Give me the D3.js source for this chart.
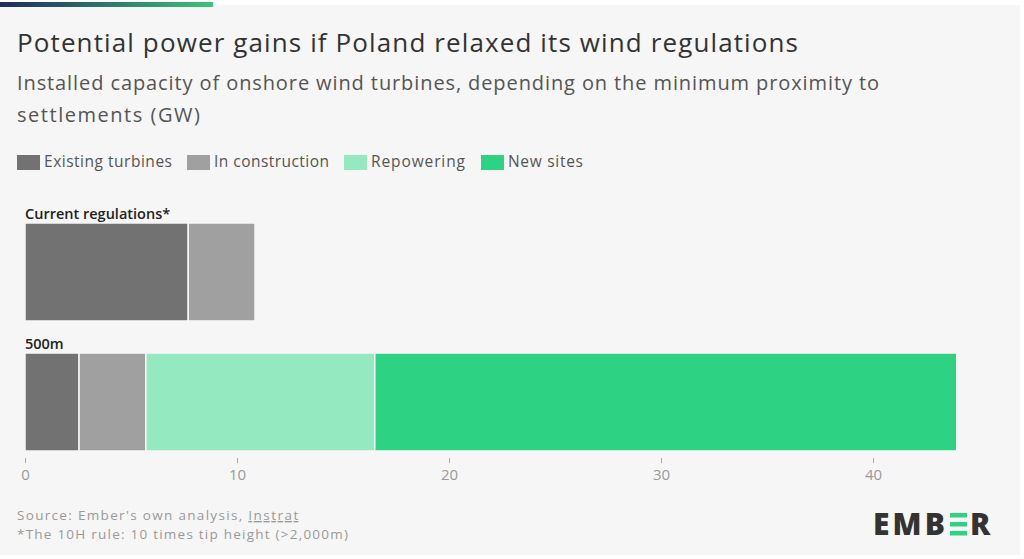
<!DOCTYPE html>
<html>
<head>
<meta charset="utf-8">
<script src="https://cdn.jsdelivr.net/npm/d3@7"></script>
<style>
  body { margin: 0; background: #fff; font-family: "Open Sans", "Noto Sans", sans-serif; }
</style>
</head>
<body>
<svg id="chart"></svg>
<script>
const categories = ['Current regulations*', '500m'];
const seriesNames = ['Existing turbines', 'In construction', 'Repowering', 'New sites'];
const colors = ['#727272', '#a0a0a0', '#94e9c0', '#2dd283'];
const existing = [7.7, 2.55];
const construction = [3.15, 3.15];
const repowering = [0, 10.8];
const newSites = [0, 27.45];
const xTicks = [0, 10, 20, 30, 40];

const width = 1024, height = 559;
const svg = d3.select('#chart').attr('width', width).attr('height', height);

svg.append('rect').attr('x', 0).attr('y', 5).attr('width', 1020).attr('height', 550).attr('fill', '#f6f6f6');
const grad = svg.append('defs').append('linearGradient').attr('id', 'topgrad');
grad.append('stop').attr('offset', '0%').attr('stop-color', '#1e2b5a');
grad.append('stop').attr('offset', '100%').attr('stop-color', '#3ec47a');
svg.append('rect').attr('x', 0).attr('y', 2).attr('width', 213).attr('height', 5).attr('fill', 'url(#topgrad)');

svg.append('text').attr('x', 17).attr('y', 52).attr('font-size', 26).attr('fill', '#333')
  .attr('textLength', 781).text('Potential power gains if Poland relaxed its wind regulations');
svg.append('text').attr('x', 17).attr('y', 90).attr('font-size', 20).attr('fill', '#555')
  .attr('textLength', 862).text('Installed capacity of onshore wind turbines, depending on the minimum proximity to');
svg.append('text').attr('x', 17).attr('y', 122).attr('font-size', 20).attr('fill', '#555')
  .attr('textLength', 183).text('settlements (GW)');

// legend
const legendX = [17, 187, 344, 481];
const legendW = [128, 115, 94, 75];
seriesNames.forEach((s, i) => {
  svg.append('rect').attr('x', legendX[i]).attr('y', 155).attr('width', 23).attr('height', 15).attr('fill', colors[i]);
  svg.append('text').attr('x', legendX[i] + 27).attr('y', 167).attr('font-size', 15.5).attr('fill', '#555')
    .attr('textLength', legendW[i]).text(s);
});

const x = d3.scaleLinear().domain([0, 40]).range([25, 873]);
const y = d3.scaleBand().domain(categories).range([205, 451]).paddingInner(0.108).paddingOuter(0);

const rows = categories.map((c, i) => ({ cat: c, vals: [existing[i], construction[i], repowering[i], newSites[i]] }));
const stacked = d3.stack().keys([0, 1, 2, 3]).value((d, k) => d.vals[k])(rows);

const g = svg.append('g');
stacked.forEach((layer, k) => {
  g.selectAll(null).data(layer.filter(d => d[1] > d[0])).enter().append('rect')
    .attr('x', d => x(d[0]))
    .attr('y', d => y(d.data.cat) + 18)
    .attr('width', d => x(d[1]) - x(d[0]))
    .attr('height', y.bandwidth() - 18)
    .attr('fill', colors[k])
    .attr('stroke', '#f6f6f6').attr('stroke-width', 1.5);
});
categories.forEach(c => {
  svg.append('text').attr('x', 25).attr('y', y(c) + 14).attr('font-size', 14.5).attr('font-weight', 600)
    .attr('fill', '#222').text(c);
});

const axis = svg.append('g').attr('transform', 'translate(0,458)')
  .call(d3.axisBottom(x).tickValues(xTicks).tickSize(5).tickPadding(6));
axis.select('.domain').remove();
axis.selectAll('line').attr('stroke', '#aaa');
axis.selectAll('text').attr('font-size', 15).attr('fill', '#999').attr('font-family', '"Open Sans", sans-serif');

const src = svg.append('text').attr('x', 17).attr('y', 520).attr('font-size', 13.5).attr('fill', '#999');
src.append('tspan').attr('textLength', 230).text("Source: Ember's own analysis, ");
src.append('tspan').attr('text-decoration', 'underline').attr('textLength', 50).text('Instrat');
svg.append('text').attr('x', 17).attr('y', 539).attr('font-size', 13.5).attr('fill', '#999')
  .attr('textLength', 331).text('*The 10H rule: 10 times tip height (>2,000m)');

// logo
const logo = svg.append('g').attr('font-size', 30).attr('font-weight', 800).attr('fill', '#333')
  .attr('font-family', '"Open Sans", sans-serif');
logo.append('text').attr('x', 873).attr('y', 535).attr('textLength', 72).text('EMB');
[0, 1, 2].forEach(i => logo.append('rect').attr('x', 950).attr('y', 513 + i * 9).attr('width', 17).attr('height', 4.5).attr('fill', '#2dd283'));
logo.append('text').attr('x', 970).attr('y', 535).text('R');
</script>
</body>
</html>
